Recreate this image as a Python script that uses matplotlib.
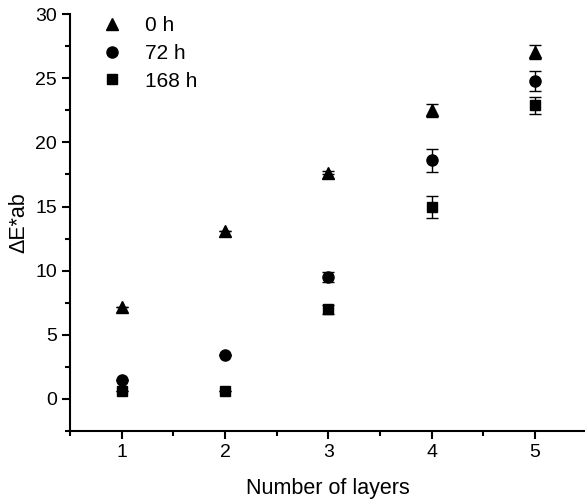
import numpy as np
import matplotlib
matplotlib.use('Agg')
from matplotlib import pyplot as plt
from matplotlib.ticker import MultipleLocator
from matplotlib.lines import Line2D

plt.rcParams['font.family'] = ['Liberation Sans', 'DejaVu Sans']

layers = [1, 2, 3, 4, 5]
de_0h = [7.2, 13.1, 17.65, 22.5, 27.05]
err_0h = [0, 0, 0.1, 0.5, 0.57]
de_72h = [1.5, 3.45, 9.5, 18.6, 24.8]
err_72h = [0, 0, 0.4, 0.87, 0.77]
de_168h = [0.6, 0.65, 7.0, 15.0, 22.9]
err_168h = [0, 0, 0.35, 0.86, 0.65]
labels = ['0 h', '72 h', '168 h']

fig = plt.figure(figsize=(5.85, 5.03), dpi=100)
ax = fig.add_axes([0.1197, 0.143, 0.883, 0.829])

series = [(de_0h, err_0h, '^', 9), (de_72h, err_72h, 'o', 8), (de_168h, err_168h, 's', 7)]
handles = []
for (vals, errs, mk, ms), lab in zip(series, labels):
    ax.errorbar(layers, vals, yerr=errs, fmt=mk, color='black', ms=ms,
                ecolor='black', elinewidth=1, capsize=4, capthick=1)
    handles.append(Line2D([], [], ls='none', marker=mk, color='black', ms=ms, label=lab))

ax.set_xlim(0.5, 5.5)
ax.set_ylim(-2.5, 30)
ax.xaxis.set_major_locator(MultipleLocator(1))
ax.xaxis.set_minor_locator(MultipleLocator(0.5))
ax.yaxis.set_major_locator(MultipleLocator(5))
ax.yaxis.set_minor_locator(MultipleLocator(2.5))
ax.tick_params(which='major', direction='out', length=6, width=1.5, labelsize=14)
ax.tick_params(which='minor', direction='out', length=3.5, width=1.5)

ax.spines['top'].set_visible(False)
ax.spines['right'].set_visible(False)
ax.spines['left'].set_linewidth(1.5)
ax.spines['bottom'].set_linewidth(1.5)

ax.set_xlabel('Number of layers', fontsize=15.5, labelpad=12)
ax.set_ylabel('ΔE*ab', fontsize=15.5, labelpad=4)

ax.legend(handles=handles, loc='upper left', frameon=False, fontsize=15,
          handletextpad=0.85, borderaxespad=0.0, labelspacing=0.42,
          handlelength=1.5, bbox_to_anchor=(0.035, 1.015))

fig.savefig('out.png', dpi=100)
